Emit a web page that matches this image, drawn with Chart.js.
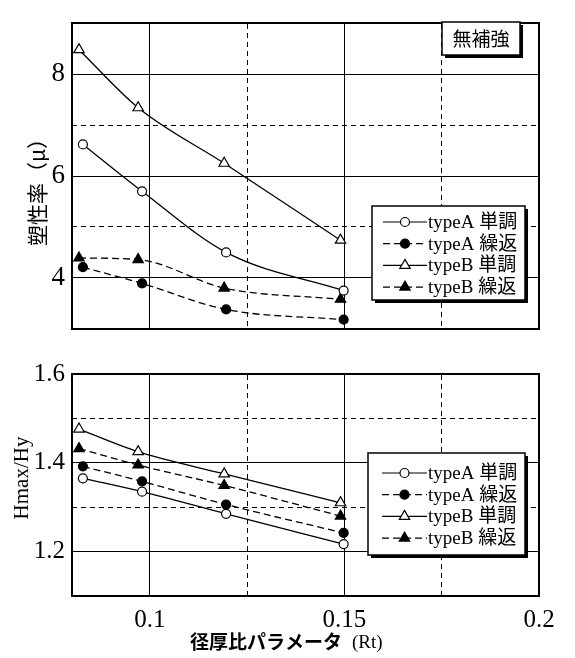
<!DOCTYPE html>
<html><head><meta charset="utf-8">
<script src="https://cdn.jsdelivr.net/npm/chart.js@4.4.1/dist/chart.umd.min.js"></script>
<style>
html,body{margin:0;padding:0;background:#fff}
#wrap{position:relative;width:575px;height:658px;overflow:hidden}
canvas{position:absolute;left:0}
</style>
</head><body>
<div id="wrap">
<canvas id="c1" width="575" height="352" style="top:0px"></canvas>
<canvas id="c2" width="575" height="306" style="top:352px"></canvas>
</div>
<script>
// ---- data ----
const rtA = [0.0828, 0.0980, 0.1196, 0.1498];
const rtB = [0.0818, 0.0970, 0.1191, 0.1490];
const seriesLabels = ['typeA 単調', 'typeA 繰返', 'typeB 単調', 'typeB 繰返'];

const muAmono = [6.62, 5.70, 4.50, 3.75];
const muAcyc  = [4.21, 3.89, 3.38, 3.18];
const muBmono = [8.48, 7.34, 6.25, 4.74];
const muBcyc  = [4.39, 4.36, 3.80, 3.58];

const hAmono = [1.365, 1.335, 1.285, 1.217];
const hAcyc  = [1.392, 1.358, 1.306, 1.242];
const hBmono = [1.476, 1.425, 1.375, 1.310];
const hBcyc  = [1.432, 1.395, 1.349, 1.280];

const xSolidTicks  = [0.1, 0.15, 0.2];
const xDashedTicks = [0.125, 0.175];
const muTicks  = [4, 6, 8];
const muDashed = [5, 7];
const hTicks   = [1.2, 1.4, 1.6];
const hDashed  = [1.3, 1.5];

const topTitle = '塑性率（μ）';
const bottomTitle = 'Hmax/Hy';
const xTitleMain = '径厚比パラメータ';
const xTitleSub = '(Rt)';
const noteText = '無補強';

// ---- styles ----
const styles = [
  {ps: 'circle',   r: 4.5, fill: '#fff', dash: []},
  {ps: 'circle',   r: 4.5, fill: '#000', dash: [7, 4]},
  {ps: 'triangle', r: 6,   fill: '#fff', dash: []},
  {ps: 'triangle', r: 6,   fill: '#000', dash: [7, 4]}
];
const SERIF = '"Liberation Serif", "DejaVu Serif", serif';
const CJK = '"Noto Sans CJK JP", sans-serif';

function pts(xs, ys) { return xs.map((x, i) => ({x: x, y: ys[i]})); }

function makeDatasets(values) {
  const xs = [rtA, rtA, rtB, rtB];
  return values.map((v, i) => ({
    label: seriesLabels[i],
    data: pts(xs[i], v),
    showLine: true,
    borderColor: '#000',
    borderWidth: 1.3,
    borderDash: styles[i].dash,
    cubicInterpolationMode: 'monotone',
    fill: false,
    pointStyle: styles[i].ps,
    pointRadius: styles[i].r,
    pointHoverRadius: styles[i].r,
    pointBackgroundColor: styles[i].fill,
    pointBorderColor: '#000',
    pointBorderWidth: 1.2
  }));
}

function setTicks(arr) { return s => { s.ticks = arr.map(v => ({value: v})); }; }

function makeScales(yMin, yMax, ySolid, yDash, showX, yFontSize, yFmt) {
  return {
    x: {
      type: 'linear', position: 'bottom', min: 0.08, max: 0.2,
      afterBuildTicks: setTicks(xSolidTicks),
      ticks: {display: showX, color: '#000', padding: 9, maxRotation: 0, autoSkip: false,
              font: {family: SERIF, size: 25}, callback: v => String(v)},
      grid: {color: '#000', lineWidth: 1, drawTicks: false},
      border: {display: true, color: '#000', width: 2},
      afterFit: s => { s.height = showX ? 62 : 0; }
    },
    x2: {
      type: 'linear', position: 'top', min: 0.08, max: 0.2,
      afterBuildTicks: setTicks(xDashedTicks),
      ticks: {display: false},
      grid: {color: '#000', lineWidth: 1, drawTicks: false},
      border: {display: true, color: '#000', width: 2, dash: [5, 4]},
      afterFit: s => { s.height = 0; }
    },
    y: {
      type: 'linear', position: 'left', min: yMin, max: yMax,
      afterBuildTicks: setTicks(ySolid),
      ticks: {color: '#000', padding: 7, font: {family: SERIF, size: yFontSize}, callback: yFmt},
      grid: {color: '#000', lineWidth: 1, drawTicks: false},
      border: {display: true, color: '#000', width: 2},
      afterFit: s => { s.width = 72; }
    },
    y2: {
      type: 'linear', position: 'right', min: yMin, max: yMax,
      afterBuildTicks: setTicks(yDash),
      ticks: {display: false},
      grid: {color: '#000', lineWidth: 1, drawTicks: false},
      border: {display: true, color: '#000', width: 2, dash: [5, 4]},
      afterFit: s => { s.width = 0; }
    }
  };
}

function drawLegend(chart, box) {
  const ctx = chart.ctx;
  ctx.save();
  ctx.setLineDash([]);
  ctx.fillStyle = '#000';
  ctx.fillRect(box.x + 3, box.y + 3, box.w, box.h);
  ctx.fillStyle = '#fff';
  ctx.fillRect(box.x, box.y, box.w, box.h);
  ctx.lineWidth = 1.5;
  ctx.strokeStyle = '#000';
  ctx.strokeRect(box.x, box.y, box.w, box.h);
  chart.data.datasets.forEach((ds, i) => {
    const y = box.row0 + i * box.rowH;
    ctx.save();
    ctx.strokeStyle = '#000';
    ctx.lineWidth = 1.2;
    ctx.setLineDash(ds.borderDash || []);
    ctx.beginPath();
    ctx.moveTo(box.lx0, y);
    ctx.lineTo(box.lx1, y);
    ctx.stroke();
    ctx.setLineDash([]);
    ctx.fillStyle = ds.pointBackgroundColor;
    ctx.strokeStyle = '#000';
    ctx.lineWidth = 1.2;
    Chart.helpers.drawPoint(ctx, {pointStyle: ds.pointStyle, radius: ds.pointRadius, rotation: 0, borderWidth: 1.2},
      (box.lx0 + box.lx1) / 2, y);
    ctx.fillStyle = '#000';
    ctx.font = '19px ' + SERIF + ', ' + CJK;
    ctx.textBaseline = 'middle';
    ctx.textAlign = 'left';
    ctx.fillText(ds.label, box.lx1 + 1, y + 1);
    ctx.restore();
  });
  ctx.restore();
}

function drawVertical(ctx, text, font, cx, cy) {
  ctx.save();
  ctx.translate(cx, cy);
  ctx.rotate(-Math.PI / 2);
  ctx.font = font;
  ctx.fillStyle = '#000';
  ctx.textAlign = 'center';
  ctx.textBaseline = 'middle';
  ctx.fillText(text, 0, 0);
  ctx.restore();
}

const topDecor = {
  id: 'topDecor',
  afterDraw(chart) {
    const ctx = chart.ctx;
    drawVertical(ctx, topTitle, '21px ' + CJK, 37, 187);
    ctx.save();
    ctx.fillStyle = '#000';
    ctx.fillRect(445, 25, 78, 33);
    ctx.fillStyle = '#fff';
    ctx.fillRect(442, 22, 78, 33);
    ctx.lineWidth = 1.5;
    ctx.strokeStyle = '#000';
    ctx.strokeRect(442, 22, 78, 33);
    ctx.fillStyle = '#000';
    ctx.font = '19px ' + CJK;
    ctx.textAlign = 'center';
    ctx.textBaseline = 'middle';
    ctx.fillText(noteText, 481, 39);
    ctx.restore();
    drawLegend(chart, {x: 372, y: 206, w: 153, h: 94, row0: 222, rowH: 21.7, lx0: 383, lx1: 427});
  }
};

const bottomDecor = {
  id: 'bottomDecor',
  afterDraw(chart) {
    const ctx = chart.ctx;
    drawVertical(ctx, bottomTitle, '21px ' + SERIF, 22, 126);
    ctx.save();
    ctx.fillStyle = '#000';
    ctx.textBaseline = 'middle';
    ctx.textAlign = 'left';
    ctx.font = 'bold 19px ' + CJK;
    const w = ctx.measureText(xTitleMain).width;
    const x0 = 190;
    ctx.fillText(xTitleMain, x0, 290);
    ctx.font = '19px ' + SERIF;
    ctx.fillText(xTitleSub, x0 + w + 10, 291);
    ctx.restore();
    drawLegend(chart, {x: 368, y: 101, w: 157, h: 102, row0: 121, rowH: 21.7, lx0: 382, lx1: 427});
  }
};

Chart.defaults.font.family = SERIF;
Chart.defaults.color = '#000';

new Chart(document.getElementById('c1'), {
  type: 'scatter',
  data: {datasets: makeDatasets([muAmono, muAcyc, muBmono, muBcyc])},
  options: {
    responsive: false, animation: false, devicePixelRatio: 1,
    layout: {padding: {left: 0, right: 36, top: 8, bottom: 9}},
    plugins: {legend: {display: false}, tooltip: {enabled: false}},
    scales: makeScales(3, 9, muTicks, muDashed, false, 27, v => String(v))
  },
  plugins: [topDecor]
});

new Chart(document.getElementById('c2'), {
  type: 'scatter',
  data: {datasets: makeDatasets([hAmono, hAcyc, hBmono, hBcyc])},
  options: {
    responsive: false, animation: false, devicePixelRatio: 1,
    layout: {padding: {left: 0, right: 36, top: 10, bottom: 0}},
    plugins: {legend: {display: false}, tooltip: {enabled: false}},
    scales: makeScales(1.1, 1.6, hTicks, hDashed, true, 25, v => v.toFixed(1))
  },
  plugins: [bottomDecor]
});
</script>
</body></html>
